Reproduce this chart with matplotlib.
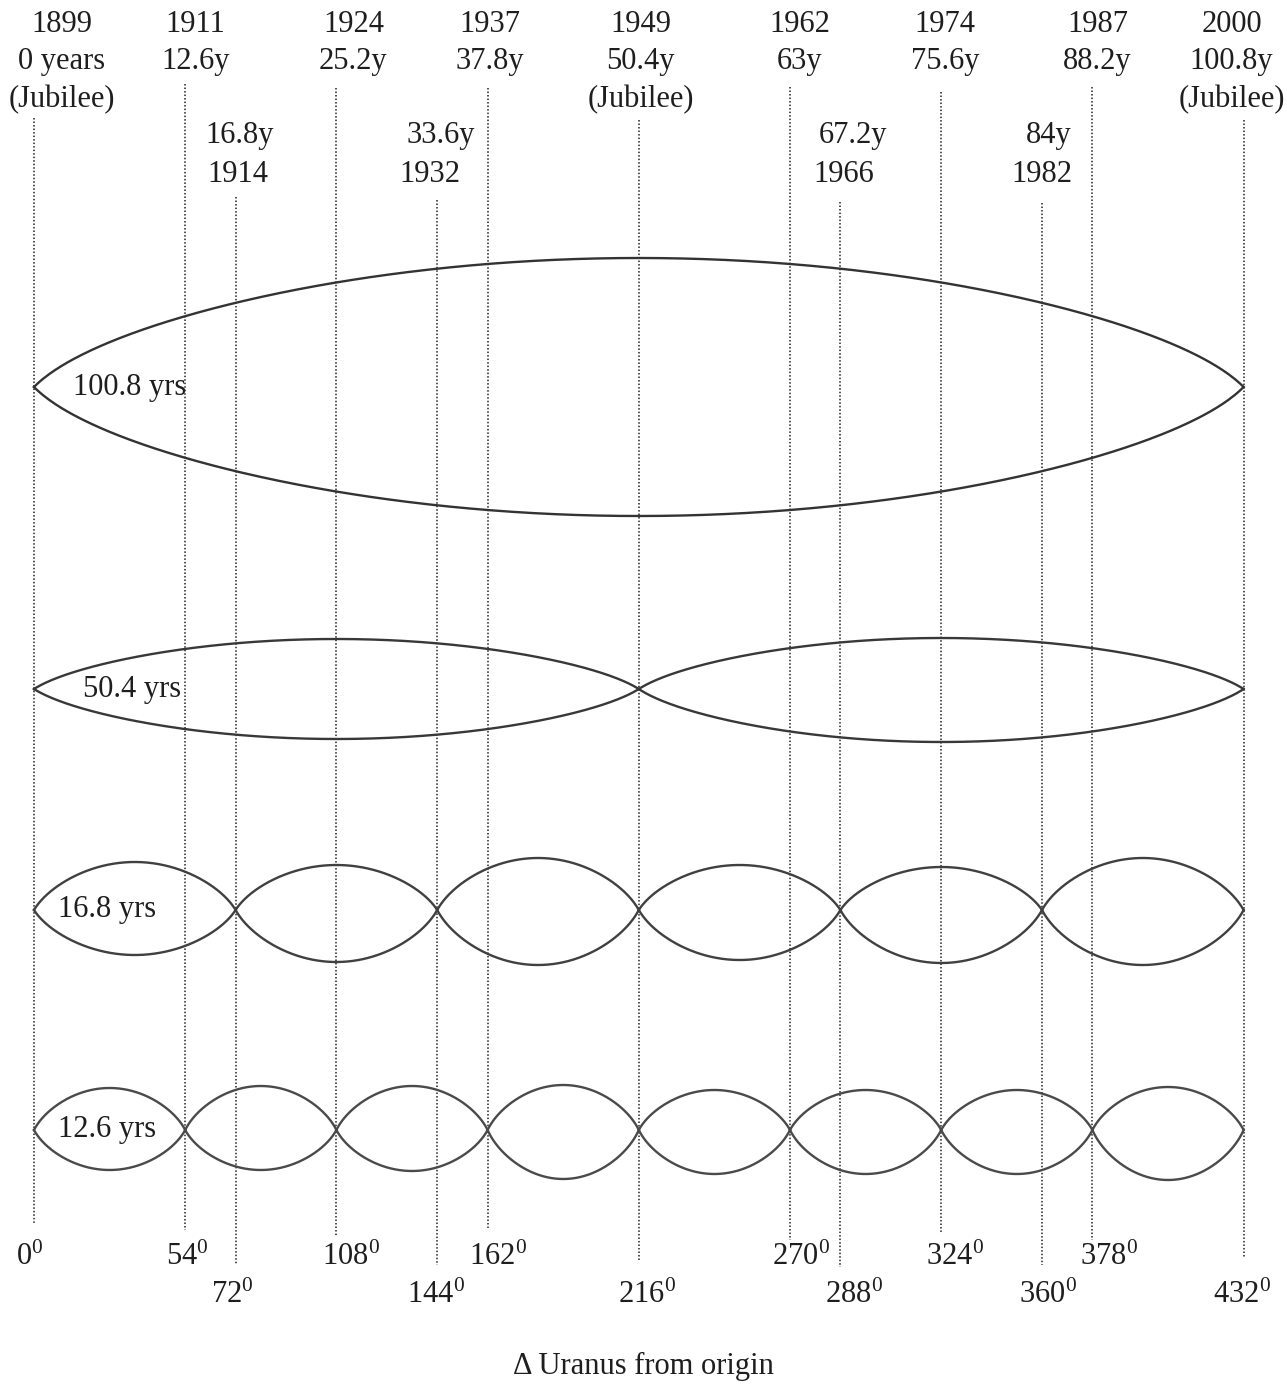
import numpy as np
import matplotlib.pyplot as plt

plt.rcParams['font.family'] = ['Liberation Serif', 'DejaVu Serif']
plt.rcParams['mathtext.fontset'] = 'custom'
plt.rcParams['mathtext.rm'] = 'Liberation Serif'

# --- data ---
deg_main = [0, 54, 108, 162, 216, 270, 324, 378, 432]
years_main = ['1899', '1911', '1924', '1937', '1949', '1962', '1974', '1987', '2000']
elapsed_main = ['0 years', '12.6y', '25.2y', '37.8y', '50.4y', '63y', '75.6y', '88.2y', '100.8y']
jubilee_deg = [0, 216, 432]

deg_mid = [72, 144, 288, 360]
elapsed_mid = ['16.8y', '33.6y', '67.2y', '84y']
years_mid = ['1914', '1932', '1966', '1982']

deg_row1 = [0, 54, 108, 162, 270, 324, 378]
deg_row2 = [72, 144, 216, 288, 360, 432]

cycle_years = [100.8, 50.4, 16.8, 12.6]
cycle_labels = ['100.8 yrs', '50.4 yrs', '16.8 yrs', '12.6 yrs']
# lobe heights above / below the centre line (pixels), one per lobe
lobe_up = [[129], [50, 51], [48, 45, 52, 45, 43, 52], [42, 44, 44, 45, 40, 40, 40, 43]]
lobe_dn = [[129], [50, 53], [45, 52, 55, 50, 53, 55], [40, 40, 41, 49, 44, 44, 44, 50]]

# --- layout (pixels) ---
W, H = 1287, 1385
px0, k = 34, 2.8          # pixel of 0 deg, pixels per degree
row_y = [387, 689, 910, 1130]
label_x = [73, 83, 58, 58]
tip = [0.04, 0.07, 0.09, 0.09]   # how sharp the lens ends are
curve_col = ['#333333', '#383838', '#404040', '#4a4a4a']

fig = plt.figure(figsize=(W / 100, H / 100), dpi=100)
ax = fig.add_axes([0, 0, 1, 1])
ax.set_xlim(-px0 / k, (W - px0) / k)
ax.set_ylim(H, 0)
ax.axis('off')


def dx(p):
    return p / k


def lens(t, e):
    s = np.abs(np.sin(np.pi * t))
    return (np.sqrt(s + e) - np.sqrt(e)) / (np.sqrt(1 + e) - np.sqrt(e))


fs = 22
tc = '#1e1e1e'
lc = '#222222'

# vertical dotted guide lines
line_top = {0: 118, 54: 84, 108: 88, 162: 88, 216: 120, 270: 87, 324: 92, 378: 87, 432: 120,
            72: 197, 144: 200, 288: 202, 360: 203}
line_bot = {0: 1223, 54: 1230, 108: 1237, 162: 1230, 270: 1240, 324: 1233, 378: 1240,
            72: 1265, 144: 1265, 216: 1260, 288: 1267, 360: 1265, 432: 1257}
for d in sorted(line_top):
    ax.plot([d, d], [line_top[d], line_bot[d]], color=lc, lw=1.1, ls=(0, (1, 1.3)))

# top labels
off_main = [28, 10, 17, 2, 2, 10, 4, 5, -12]
for d, yr, el, o in zip(deg_main, years_main, elapsed_main, off_main):
    x = d + dx(o)
    ax.text(x, 25, yr, ha='center', va='center', fontsize=fs, color=tc)
    ax.text(x, 62, el, ha='center', va='center', fontsize=fs, color=tc)
    if d in jubilee_deg:
        ax.text(x, 100, '(Jubilee)', ha='center', va='center', fontsize=fs, color=tc)

off_mid_el = [4, 4, 13, 7]
off_mid_yr = [2, -7, 3, 0]
for d, el, yr, o1, o2 in zip(deg_mid, elapsed_mid, years_mid, off_mid_el, off_mid_yr):
    ax.text(d + dx(o1), 135, el, ha='center', va='center', fontsize=fs, color=tc)
    ax.text(d + dx(o2), 175, yr, ha='center', va='center', fontsize=fs, color=tc)

# lens curves
for yrs, c, ups, dns, lab, lx, e, col in zip(cycle_years, row_y, lobe_up, lobe_dn,
                                             cycle_labels, label_x, tip, curve_col):
    L = yrs * 432 / 100.8
    for i in range(len(ups)):
        x = np.linspace(i * L, (i + 1) * L, 400)
        s = lens((x - i * L) / L, e)
        ax.plot(x, c - ups[i] * s, color=col, lw=1.7)
        ax.plot(x, c + dns[i] * s, color=col, lw=1.7)
    ax.text(dx(lx - px0), c, lab, ha='left', va='center', fontsize=fs, color=tc)

# degree labels along the bottom
off_r1 = [-4, 2, 15, 10, 11, 14, 17]
for d, o in zip(deg_row1, off_r1):
    ax.text(d + dx(o), 1257, r'$\mathregular{%d^0}$' % d, ha='center', va='center',
            fontsize=fs, color=tc)
off_r2 = [-3, -1, 8, 14, 6, -2]
for d, o in zip(deg_row2, off_r2):
    ax.text(d + dx(o), 1295, r'$\mathregular{%d^0}$' % d, ha='center', va='center',
            fontsize=fs, color=tc)

ax.text(dx(643 - px0), 1366, '\u0394 Uranus from origin', ha='center', va='center',
        fontsize=fs, color=tc)

fig.savefig('out.png', dpi=100, facecolor='white')
